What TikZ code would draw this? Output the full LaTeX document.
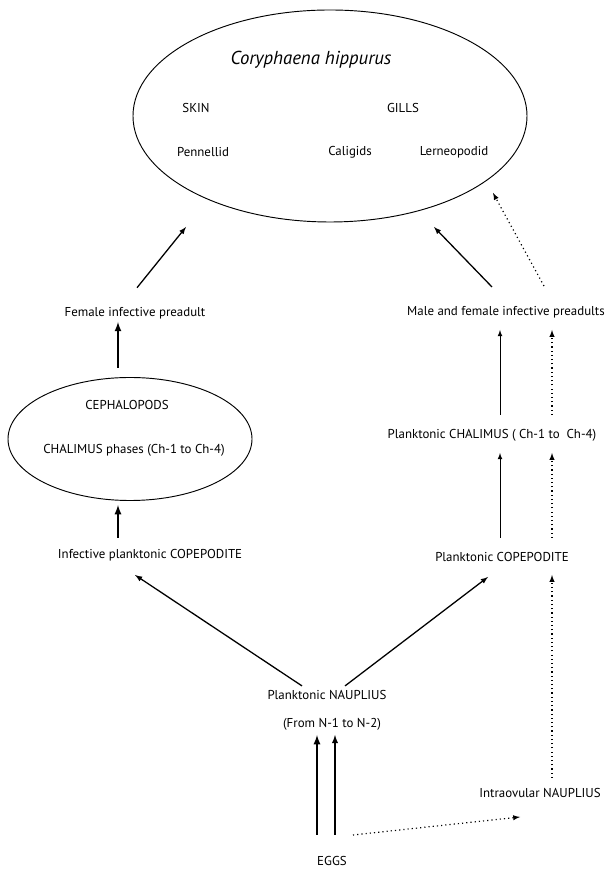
\documentclass[tikz,border=0pt]{standalone}
\usepackage{fontspec}
\setmainfont{PT Sans}
\usetikzlibrary{arrows}
\usetikzlibrary{shapes.geometric}
\usetikzlibrary{calc}

\begin{document}
\begin{tikzpicture}[x=0.03cm, y=0.03cm,
    lbl/.style={inner sep=1pt, font=\fontsize{11}{13}\selectfont},
    host/.style={draw, thick, ellipse, inner sep=0pt},
    fat/.style={-latex, line width=1.7pt},
    mid/.style={-latex, line width=1.1pt},
    thin/.style={-latex, line width=0.8pt},
    dots/.style={-latex, line width=1pt, dash pattern=on 1pt off 2.6pt}]
  \useasboundingbox (0,0) rectangle (613,869);

  % fish and parasites
  \node[host, minimum width=11.82cm, minimum height=6.36cm] (fish) at (330,753) {};
  \node[lbl, font=\fontsize{16}{18}\selectfont\itshape] (coryph) at (311,809) {Coryphaena hippurus};
  \node[lbl] (skin) at (196,761) {SKIN};
  \node[lbl] (gills) at (403,761) {GILLS};
  \node[lbl] (penn) at (203,717) {Pennellid};
  \node[lbl] (calig) at (350,717) {Caligids};
  \node[lbl] (lerneo) at (454,717) {Lerneopodid};

  % left branch
  \node[lbl] (fempre) at (135,556) {Female infective preadult};
  \node[host, minimum width=7.32cm, minimum height=3.69cm] (ceph) at (130,430) {};
  \node[lbl] (cephtxt) at (127,464) {CEPHALOPODS};
  \node[lbl] (chaltxt) at (134,419) {CHALIMUS phases (Ch-1 to Ch-4)};
  \node[lbl] (infcop) at (150,314) {Infective planktonic COPEPODITE};

  % right branch
  \node[lbl] (malepre) at (506,557) {Male and female infective preadults};
  \node[lbl] (plchal) at (492,434) {Planktonic CHALIMUS ( Ch-1 to\ \ Ch-4)};
  \node[lbl] (plcop) at (502,312) {Planktonic COPEPODITE};

  % bottom
  \node[lbl] (naup) at (327,174) {Planktonic NAUPLIUS};
  \node[lbl] (naupsub) at (332,145) {(From N-1 to N-2)};
  \node[lbl] (intra) at (540,76) {Intraovular NAUPLIUS};
  \node[lbl] (eggs) at (332,8) {EGGS};

  \coordinate (fishL) at (186,642);
  \coordinate (fishR) at (434,642);
  \coordinate (fishD) at (493,676);

  % arrows
  \draw[mid] ($(fempre.north)+(2,18)$) -- (fishL);
  \draw[fat] (118,501) -- (118,547);
  \draw[fat] (118,331) -- (118,364);
  \draw[mid] ($(naup.north)+(-25,3)$) -- (135,294);
  \draw[mid] ($(naup.north)+(18,3)$) -- (488,292);
  \draw[fat] (317,34) -- (317,134);
  \draw[mid, line width=1.4pt] (335,34) -- (335,134);
  \draw[dots] (353,34) -- (520,52);
  \draw[dots] (552,91) -- (552,294);
  \draw[thin] (500,331) -- (500,416);
  \draw[dots] (552,331) -- (552,416);
  \draw[thin] (500,454) -- (500,539);
  \draw[dots] (552,454) -- (552,539);
  \draw[mid] (492,582) -- (fishR);
  \draw[dots] (544,583) -- (fishD);
\end{tikzpicture}
\end{document}
